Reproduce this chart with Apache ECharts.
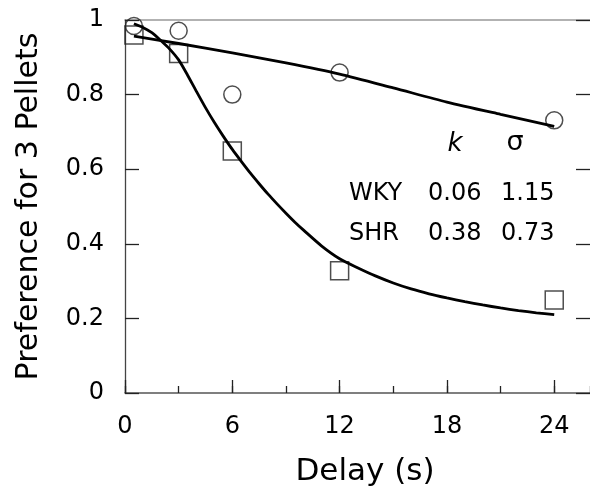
<!DOCTYPE html>
<html><head><meta charset="utf-8">
<script src="https://cdn.jsdelivr.net/npm/echarts@6/dist/echarts.min.js"></script>
<style>html,body{margin:0;padding:0;background:#fff}#c{width:590px;height:492px}</style>
</head><body><div id="c"></div>
<script>
const delays = [0.5, 3, 6, 12, 24];
const wkyObserved = [0.984, 0.971, 0.80, 0.859, 0.731];
const shrObserved = [0.96, 0.91, 0.649, 0.328, 0.249];
const wkyFitX = [0.5, 3, 6, 9, 12, 15, 18, 21, 24];
const wkyFitY = [0.957, 0.937, 0.912, 0.885, 0.855, 0.818, 0.78, 0.747, 0.715];
const shrFitX = [0.5, 1, 1.5, 2, 2.5, 3, 3.5, 4, 4.5, 5, 5.5, 6, 6.5, 7, 7.5, 8, 8.5, 9, 9.5, 10, 11, 12, 13, 14, 15, 16, 17, 18, 19, 20, 21, 22, 23, 24];
const shrFitY = [0.99, 0.98, 0.966, 0.945, 0.922, 0.893, 0.852, 0.808, 0.765, 0.725, 0.688, 0.653, 0.621, 0.59, 0.561, 0.533, 0.507, 0.482, 0.458, 0.436, 0.394, 0.36, 0.336, 0.314, 0.295, 0.279, 0.266, 0.255, 0.245, 0.236, 0.228, 0.221, 0.215, 0.21];
const xTickLabels = ['0', '6', '12', '18', '24'];
const yTickLabels = ['0', '0.2', '0.4', '0.6', '0.8', '1'];
const paramHeader = ['k', 'σ'];
const paramRows = [['WKY', '0.06', '1.15'], ['SHR', '0.38', '0.73']];

const FONT = 'DejaVu Sans';
const zip = (xs, ys) => xs.map((x, i) => [x, ys[i]]);
const tickStyle = { color: '#222', width: 1.3 };

const graphics = [];
graphics.push({ type: 'text', x: 455, y: 144, style: { text: paramHeader[0], font: 'italic 26px "' + FONT + '"', fill: '#000', textAlign: 'center', textVerticalAlign: 'middle' } });
graphics.push({ type: 'text', x: 515, y: 143, style: { text: paramHeader[1], font: '27px "' + FONT + '"', fill: '#000', textAlign: 'center', textVerticalAlign: 'middle' } });
const colX = [349, 428, 501];
const rowY = [194, 234];
paramRows.forEach((row, r) => {
  row.forEach((t, c) => {
    graphics.push({ type: 'text', x: colX[c], y: rowY[r], style: { text: t, font: '24px "' + FONT + '"', fill: '#000', textAlign: 'left', textVerticalAlign: 'middle' } });
  });
});

const chart = echarts.init(document.getElementById('c'), null, { renderer: 'canvas' });
chart.setOption({
  animation: false,
  backgroundColor: '#fff',
  grid: { left: 125, top: 20, width: 475, height: 375, containLabel: false },
  xAxis: [
    {
      type: 'value', position: 'bottom', min: 0, max: 26, interval: 6,
      axisLine: { show: true, onZero: false, lineStyle: { color: '#555', width: 1.5 } },
      axisTick: { show: true, inside: true, length: 13, lineStyle: tickStyle },
      axisLabel: { show: true, margin: 22, fontFamily: FONT, fontSize: 24, color: '#000', showMaxLabel: false,
        formatter: v => xTickLabels.includes(String(v)) ? String(v) : '' },
      splitLine: { show: false },
      name: 'Delay (s)', nameLocation: 'middle', nameGap: 63,
      nameTextStyle: { fontFamily: FONT, fontSize: 31, color: '#000', padding: [0, 0, 0, 15] }
    },
    {
      type: 'value', position: 'bottom', min: 0, max: 26, interval: 3,
      axisLine: { show: false, onZero: false },
      axisTick: { show: true, inside: true, length: 7, lineStyle: tickStyle },
      axisLabel: { show: false }, splitLine: { show: false }
    },
    {
      type: 'value', position: 'top', min: 0, max: 26, interval: 6,
      axisLine: { show: true, onZero: false, lineStyle: { color: '#999', width: 1.7 } },
      axisTick: { show: false }, axisLabel: { show: false }, splitLine: { show: false }
    }
  ],
  yAxis: [
    {
      type: 'value', position: 'left', min: 0, max: 1, interval: 0.2,
      axisLine: { show: true, onZero: false, lineStyle: { color: '#444', width: 1.3 } },
      axisTick: { show: true, inside: true, length: 14, lineStyle: tickStyle },
      axisLabel: { show: true, margin: 21, fontFamily: FONT, fontSize: 24, color: '#000',
        formatter: v => { const s = String(+v.toFixed(1)); return yTickLabels.includes(s) ? s : ''; } },
      splitLine: { show: false },
      name: 'Preference for 3 Pellets', nameLocation: 'middle', nameGap: 81, nameRotate: 90,
      nameTextStyle: { fontFamily: FONT, fontSize: 30, color: '#000' }
    },
    {
      type: 'value', position: 'right', min: 0, max: 1, interval: 0.2,
      axisLine: { show: false, onZero: false },
      axisTick: { show: true, inside: true, length: 14, lineStyle: tickStyle },
      axisLabel: { show: false }, splitLine: { show: false }
    }
  ],
  series: [
    { type: 'scatter', name: 'WKY', xAxisIndex: 0, yAxisIndex: 0, data: zip(delays, wkyObserved), symbol: 'circle', symbolSize: 17,
      itemStyle: { color: 'rgba(0,0,0,0)', borderColor: '#222', borderWidth: 1.5 }, z: 2 },
    { type: 'scatter', name: 'SHR', xAxisIndex: 0, yAxisIndex: 0, data: zip(delays, shrObserved), symbol: 'rect', symbolSize: 18,
      itemStyle: { color: 'rgba(0,0,0,0)', borderColor: '#222', borderWidth: 1.5 }, z: 2 },
    { type: 'line', name: 'WKY fit', xAxisIndex: 0, yAxisIndex: 0, data: zip(wkyFitX, wkyFitY), showSymbol: false, smooth: 0.25,
      lineStyle: { color: '#000', width: 2.8 }, z: 3 },
    { type: 'line', name: 'SHR fit', xAxisIndex: 0, yAxisIndex: 0, data: zip(shrFitX, shrFitY), showSymbol: false, smooth: 0.25,
      lineStyle: { color: '#000', width: 2.8 }, z: 3 }
  ],
  graphic: graphics
});
</script></body></html>
